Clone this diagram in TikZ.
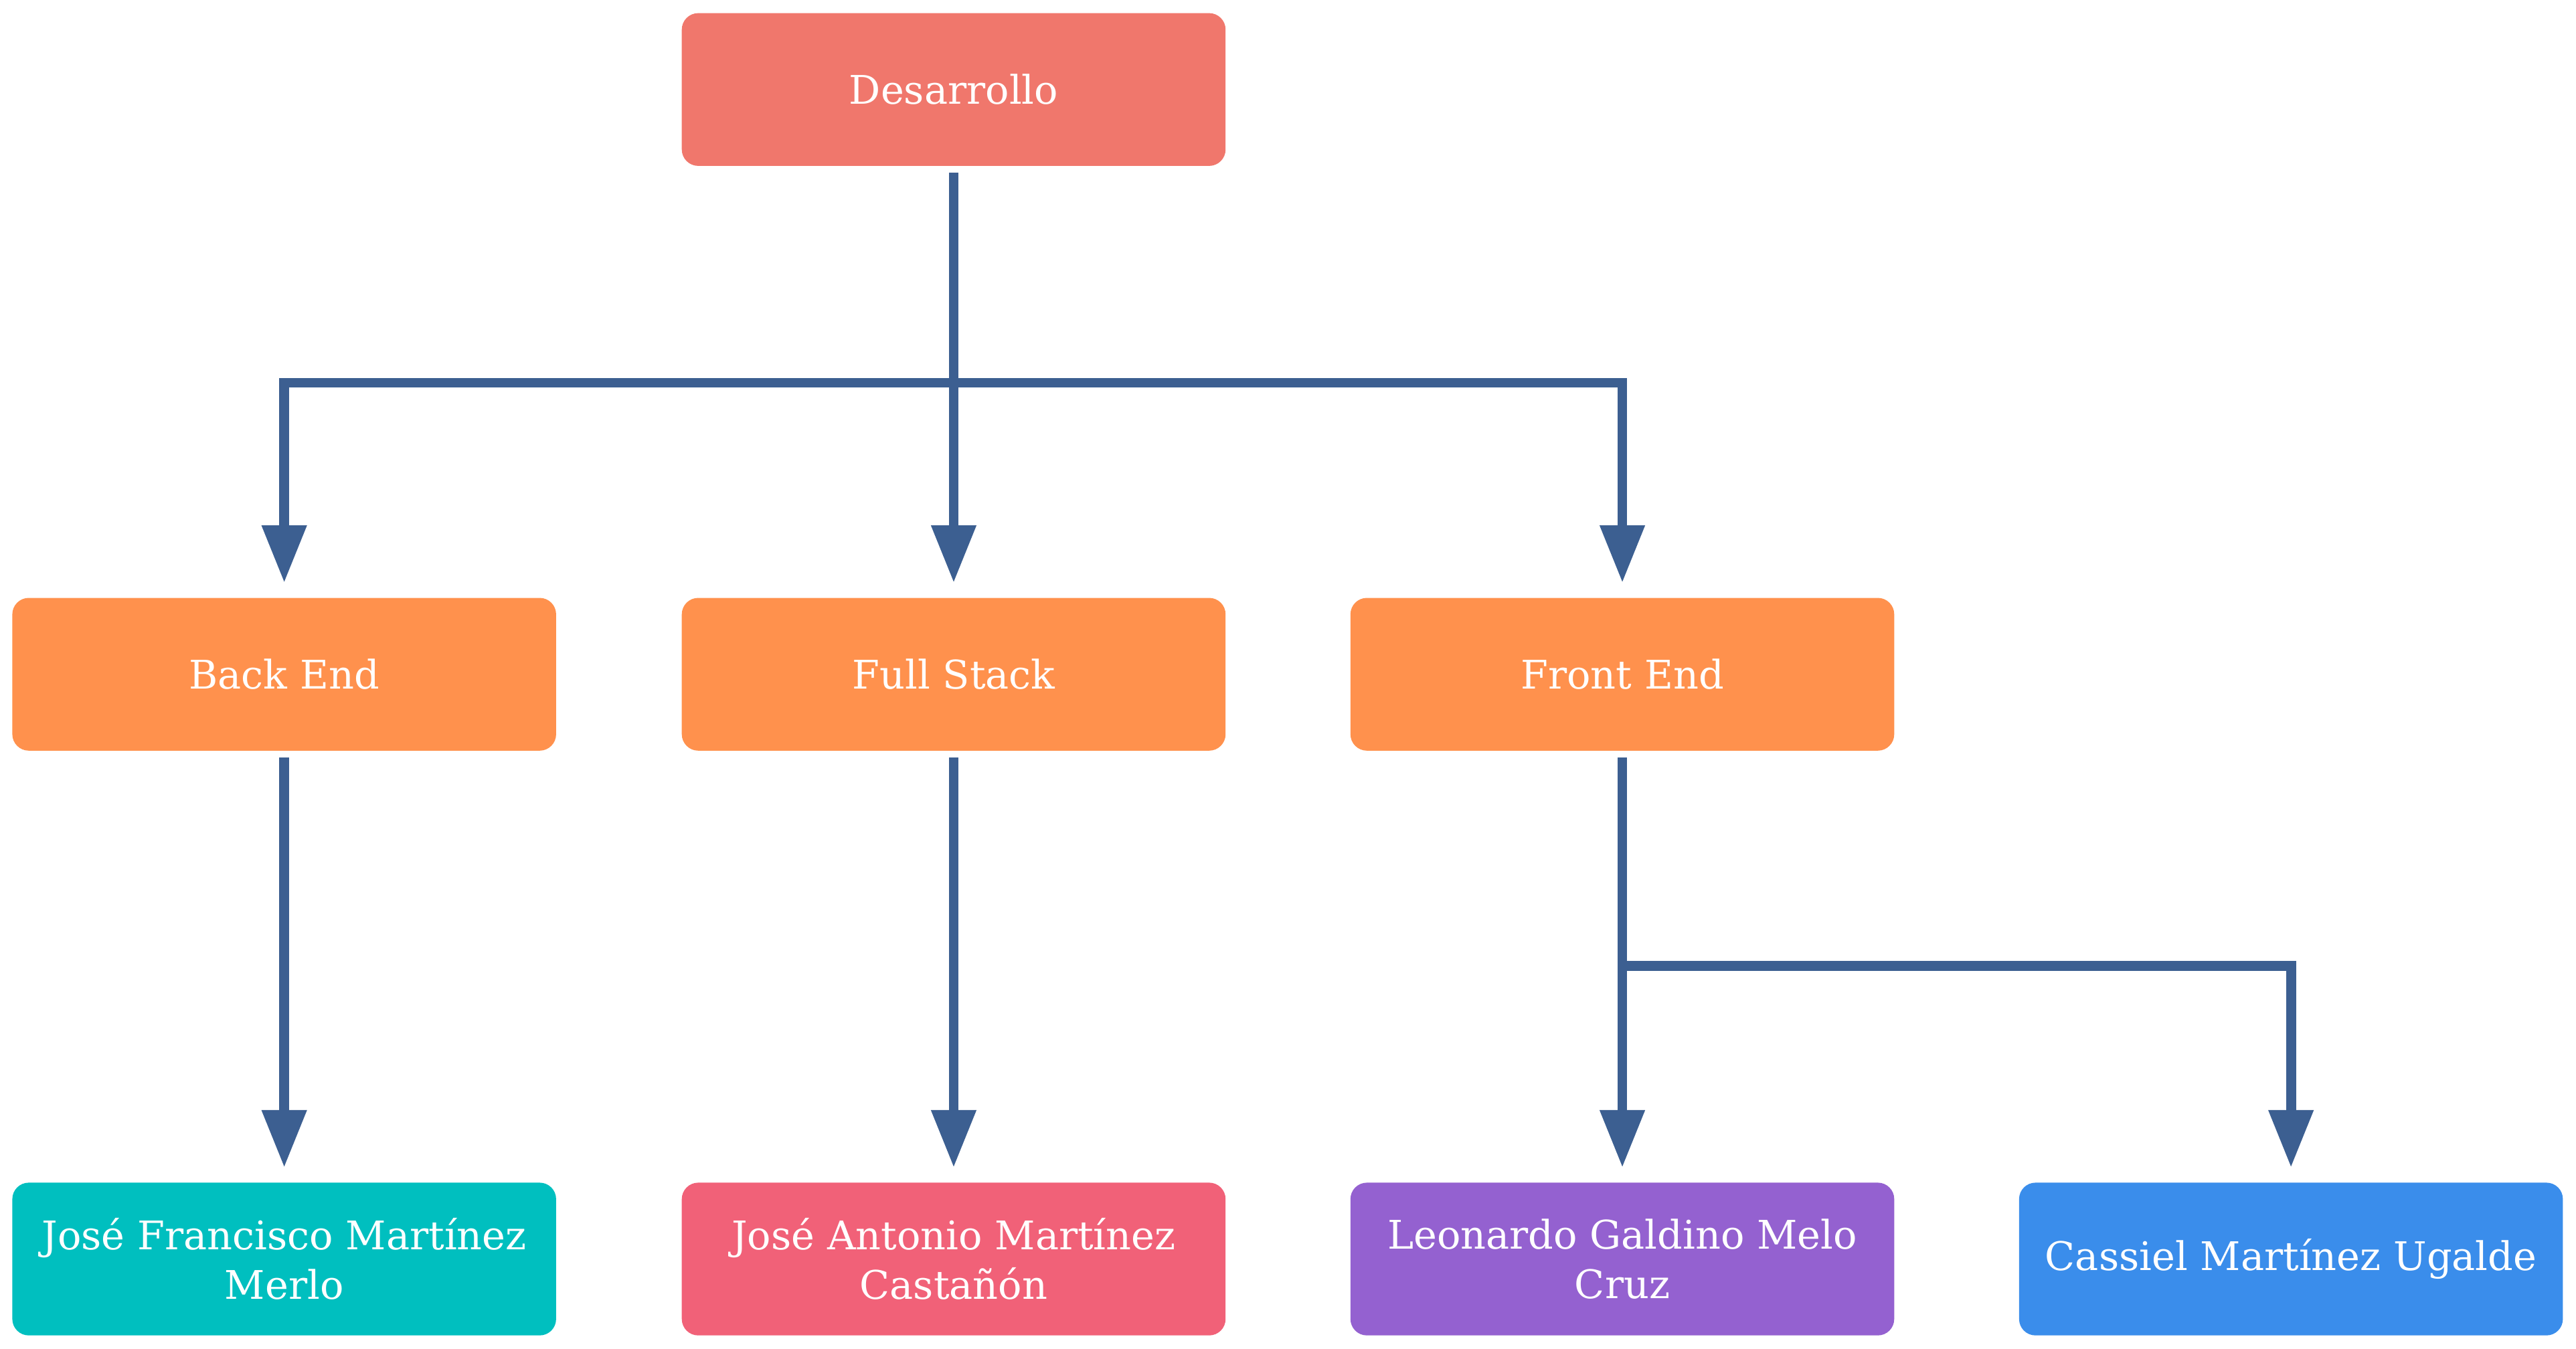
\documentclass[tikz,border=0pt]{standalone}
\usepackage{fontspec}
\setmainfont{DejaVu Serif}
\usetikzlibrary{arrows.meta}

\definecolor{cDes}{HTML}{F0776C}
\definecolor{cArea}{HTML}{FF914D}
\definecolor{cTeal}{HTML}{00BFBF}
\definecolor{cPink}{HTML}{F16178}
\definecolor{cPurple}{HTML}{9461D0}
\definecolor{cBlue}{HTML}{3A8DEB}
\definecolor{cEdge}{HTML}{3C5F91}

\begin{document}
\begin{tikzpicture}[x=1pt, y=-1pt,
  box/.style={rounded corners=10pt, minimum width=331pt, minimum height=93pt,
    inner sep=0pt, align=center, text=white,
    font=\fontsize{24}{30}\selectfont},
  edge/.style={draw=cEdge, line width=6pt,
    -{Triangle[length=35pt,width=26pt]}, shorten >=9pt, shorten <=4pt}]

\useasboundingbox (0, 0) rectangle (1568, 821);

\pgfmathsetmacro{\rowa}{54.5}
\pgfmathsetmacro{\rowb}{410.5}
\pgfmathsetmacro{\rowc}{766.5}

% nodes
\node[box, fill=cDes] (des) at (580.5, \rowa) {Desarrollo};

\node[box, fill=cArea] (back) at (173, \rowb) {Back End};
\node[box, fill=cArea] (full) at (580.5, \rowb) {Full Stack};
\node[box, fill=cArea] (front) at (987.5, \rowb) {Front End};

\node[box, fill=cTeal] (jfm) at (173, \rowc) {José Francisco Martínez\\Merlo};
\node[box, fill=cPink] (jam) at (580.5, \rowc) {José Antonio Martínez\\Castañón};
\node[box, fill=cPurple] (lgm) at (987.5, \rowc) {Leonardo Galdino Melo\\Cruz};
\node[box, fill=cBlue] (cmu) at (1394.5, \rowc) {Cassiel Martínez Ugalde};

\coordinate (splitA) at (580.5, 233);
\coordinate (splitB) at (987.5, 588);

% edges
\draw[edge] (des.south) -- (splitA) -| (back.north);
\draw[edge] (des.south) -- (full.north);
\draw[edge] (des.south) -- (splitA) -| (front.north);

\draw[edge] (back.south) -- (jfm.north);
\draw[edge] (full.south) -- (jam.north);
\draw[edge] (front.south) -- (lgm.north);
\draw[edge] (front.south) -- (splitB) -| (cmu.north);
\end{tikzpicture}
\end{document}
